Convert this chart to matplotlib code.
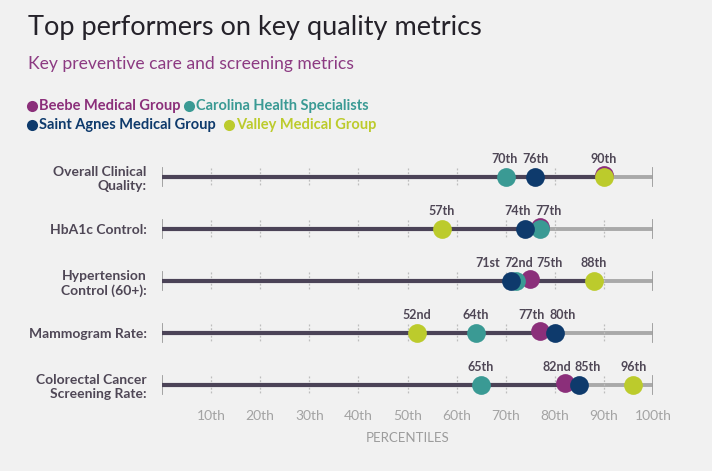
import matplotlib.pyplot as plt
from matplotlib.lines import Line2D

metrics = ["Overall Clinical\nQuality:", "HbA1c Control:", "Hypertension\nControl (60+):",
           "Mammogram Rate:", "Colorectal Cancer\nScreening Rate:"]
groups = ["Beebe Medical Group", "Carolina Health Specialists",
          "Saint Agnes Medical Group", "Valley Medical Group"]
beebe = [90, 77, 75, 77, 82]
carolina = [70, 77, 72, 64, 65]
saint_agnes = [76, 74, 71, 80, 85]
valley = [90, 57, 88, 52, 96]
bar_end = [90, 77, 88, 80, 81]
ticks = [10, 20, 30, 40, 50, 60, 70, 80, 90, 100]
tick_labels = ["10th", "20th", "30th", "40th", "50th", "60th", "70th", "80th", "90th", "100th"]

colors = ["#8b2f7a", "#3a9a94", "#0e3a6c", "#bccb2c"]
bg = "#f1f1f1"
label_col = "#4f4756"

plt.rcParams["font.family"] = ["Lato", "DejaVu Sans"]


def ordinal(v):
    if v % 100 in (11, 12, 13):
        return f"{v}th"
    return f"{v}" + {1: "st", 2: "nd", 3: "rd"}.get(v % 10, "th")


def spread(xs, gap=6.3):
    # push value labels apart so they don't collide
    xs = list(xs)
    for _ in range(50):
        moved = False
        for i in range(len(xs) - 1):
            d = xs[i + 1] - xs[i]
            if d < gap:
                s = (gap - d) / 2
                xs[i] -= s
                xs[i + 1] += s
                moved = True
        if not moved:
            break
    return xs


fig = plt.figure(figsize=(7.12, 4.71), dpi=100, facecolor=bg)
ax = fig.add_axes([162 / 712, (471 - 405.8) / 471, 491 / 712, (405.8 - 151) / 471])
ax.set_facecolor(bg)
ax.set_xlim(0, 100)
ax.set_ylim(4.4, -0.5)
for s in ax.spines.values():
    s.set_visible(False)

series = [beebe, carolina, saint_agnes, valley]
for r in range(len(metrics)):
    ax.plot([0, 100], [r, r], color="#a9a9a9", lw=2.8, solid_capstyle="butt", zorder=1)
    ax.plot([0, bar_end[r]], [r, r], color="#4b4357", lw=3, solid_capstyle="butt", zorder=2)
    for t in [0, 100]:
        ax.plot([t, t], [r - 0.18, r + 0.18], color="#9c9c9c", lw=1.3, zorder=1)
    for t in ticks[:-1]:
        ax.plot([t, t], [r - 0.18, r + 0.18], color="#bdbdbd", lw=0.9,
                ls=(0, (1.5, 1.5)), zorder=1)
    for k, vals in enumerate(series):
        dy = -0.03 if k == 0 else 0
        ax.plot(vals[r], r + dy, "o", ms=13.5, color=colors[k], mec="none", zorder=3 + k)
    uniq = sorted(set(v[r] for v in series))
    for v, xl in zip(uniq, spread(uniq)):
        ax.annotate(ordinal(v), (xl, r), xytext=(0, 8.5), textcoords="offset points",
                    ha="center", va="bottom", fontsize=9, fontweight="bold", color=label_col)

ax.set_yticks(range(len(metrics)), metrics)
ax.set_xticks(ticks, tick_labels)
ax.tick_params(axis="y", length=0, pad=11, labelsize=10, labelcolor=label_col)
ax.tick_params(axis="x", length=0, pad=3, labelsize=10, labelcolor="#a3a3a3")
for lab in ax.get_yticklabels():
    lab.set_fontweight("bold")
    lab.set_horizontalalignment("right")
    lab.set_multialignment("right")
ax.set_xlabel("PERCENTILES", fontsize=9.5, color="#9c9c9c", labelpad=7)

fig.text(28 / 712, 1 - 27 / 471, "Top performers on key quality metrics", fontsize=19.5,
         color="#25222a", va="center", ha="left")
fig.text(28 / 712, 1 - 64 / 471, "Key preventive care and screening metrics", fontsize=12.6,
         color="#8c3a82", va="center", ha="left")

legend_pos = [(32, 106), (189, 106), (32, 125), (229, 125)]
for (px, py), name, c in zip(legend_pos, groups, colors):
    fig.add_artist(Line2D([px / 712], [1 - py / 471], marker="o", ms=8, color=c,
                          mec="none", transform=fig.transFigure))
    fig.text((px + 7) / 712, 1 - py / 471, name, fontsize=10.5, fontweight="bold",
             color=c, va="center", ha="left")

fig.savefig("out.png", dpi=100, facecolor=bg)
